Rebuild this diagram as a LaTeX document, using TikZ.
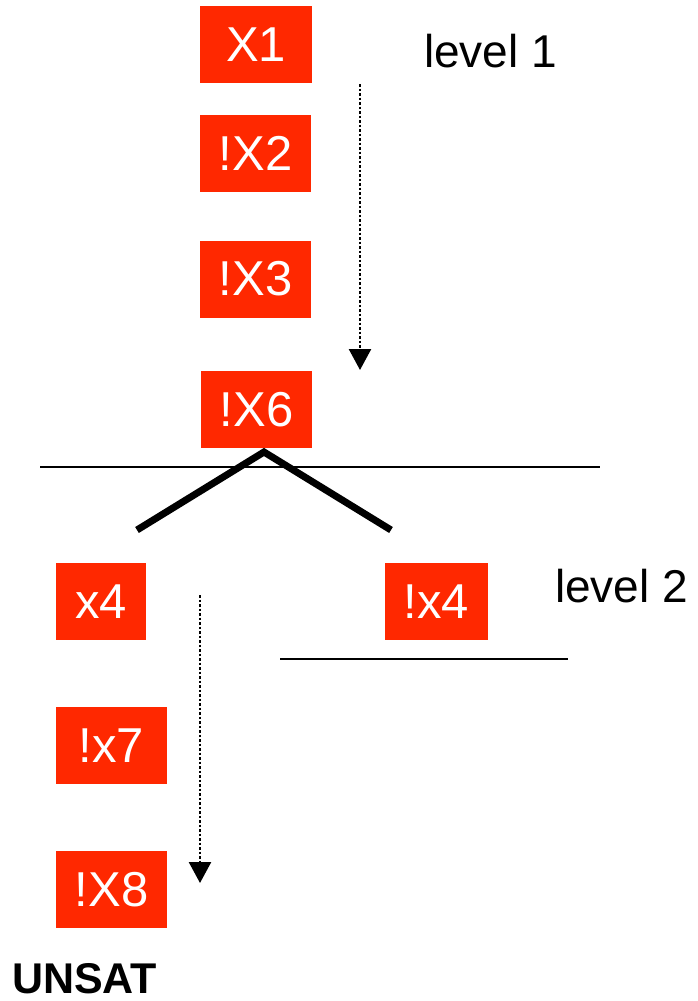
\documentclass[tikz,border=0pt]{standalone}
\usepackage{fontspec}
\setmainfont{Liberation Sans}
\usetikzlibrary{arrows.meta}
\definecolor{litred}{RGB}{255,40,0}
\begin{document}
\begin{tikzpicture}[x=1pt,y=-1pt,
  lit/.style={rectangle, fill=litred, text=white, inner sep=0pt,
    minimum height=77pt, font=\fontsize{49}{50}\selectfont},
  lvl/.style={anchor=base west, inner sep=0pt, font=\fontsize{46}{48}\selectfont},
  cut/.style={line width=2pt},
  branch/.style={line width=7pt},
  flow/.style={line width=2.5pt, dash pattern=on 2.5pt off 2pt,
    -{Triangle[width=22pt,length=21pt]}}]
  \useasboundingbox (0,0) rectangle (698,1001);

  % first decision level
  \node[lit, minimum width=112pt] (x1) at (256,44.5) {X1};
  \node[lit, minimum width=111pt] (x2) at (255.5,153.5) {!X2};
  \node[lit, minimum width=111pt] (x3) at (255.5,279) {!X3};
  \node[lit, minimum width=111pt] (x6) at (256.5,409.5) {!X6};
  \node[lvl] (lv1) at (424,67) {level 1};

  \coordinate (f1s) at (360,84);
  \coordinate (f1e) at (360,370);
  \draw[flow] (f1s) -- (f1e);

  % branching on x4
  \coordinate (cutL) at (40,467);
  \coordinate (cutR) at (600,467);
  \draw[cut] (cutL) -- (cutR);
  \coordinate (apex) at (264,452);
  \coordinate (bl) at (137,530);
  \coordinate (br) at (391,530);
  \draw[branch] (bl) -- (apex) -- (br);

  % second decision level
  \node[lit, minimum width=90pt] (x4) at (101,601.5) {x4};
  \node[lit, minimum width=103pt] (nx4) at (436.5,601.5) {!x4};
  \node[lvl] (lv2) at (555,602) {level 2};
  \coordinate (cut2L) at (280,659);
  \coordinate (cut2R) at (568,659);
  \draw[cut] (cut2L) -- (cut2R);

  \node[lit, minimum width=111pt] (x7) at (111.5,745.5) {!x7};
  \node[lit, minimum width=111pt] (x8) at (111.5,889.5) {!X8};

  \coordinate (f2s) at (200,595);
  \coordinate (f2e) at (200,883);
  \draw[flow] (f2s) -- (f2e);

  \node[anchor=base west, inner sep=0pt, font=\fontsize{43}{45}\selectfont\bfseries] (unsat) at (12,993) {UNSAT};
\end{tikzpicture}
\end{document}
